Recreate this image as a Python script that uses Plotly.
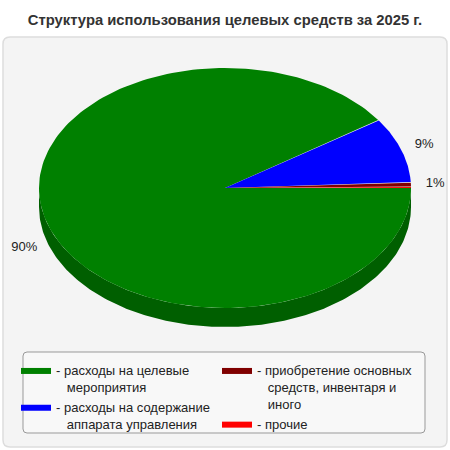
import numpy as np
import plotly.graph_objects as go

# data
labels = [
    "- расходы на целевые<br>\u00a0\u00a0\u00a0мероприятия",
    "- расходы на содержание<br>\u00a0\u00a0\u00a0аппарата управления",
    "- приобретение основных<br>\u00a0\u00a0\u00a0средств, инвентаря и<br>\u00a0\u00a0\u00a0иного",
    "- прочие",
]
values = [90.4, 8.8, 0.6, 0.2]
colors = ["#008000", "#0000ff", "#800000", "#ff0000"]
side_colors = ["#005f00", "#0000b0", "#5a0000", "#b00000"]
legend_ids = ["legend", "legend", "legend2", "legend2"]

W = H = 450
CX, CY, RX = 225, 188, 186  # pixel centre and x radius of the pie
RY = 120 / RX               # squash of the ellipse
DEPTH = 19 / RX             # thickness of the side wall


def arc(a0, a1, n=200):
    t = np.radians(np.linspace(a0, a1, n))
    return np.cos(t), RY * np.sin(t)


fig = go.Figure()

total = sum(values)
starts = np.concatenate([[0], np.cumsum(values)[:-1]]) / total * -360
ends = np.cumsum(values) / total * -360

# side walls (only the front, lower half is visible)
for s, e, c in zip(starts, ends, side_colors):
    for lo, hi in [(-180, 0), (-540, -360)]:
        a0, a1 = min(s, hi), max(e, lo)
        if a0 <= a1:
            continue
        x, y = arc(a0, a1)
        xs = np.concatenate([x, x[::-1]])
        ys = np.concatenate([y, y[::-1] - DEPTH])
        fig.add_trace(go.Scatter(x=xs, y=ys, fill="toself", fillcolor=c,
                                 mode="lines", line=dict(width=0),
                                 showlegend=False, hoverinfo="skip"))

# top faces
for lab, v, s, e, c, lg in zip(labels, values, starts, ends, colors, legend_ids):
    x, y = arc(s, e)
    fig.add_trace(go.Scatter(x=np.concatenate([[0], x, [0]]),
                             y=np.concatenate([[0], y, [0]]),
                             fill="toself", fillcolor=c, mode="lines",
                             line=dict(width=0, color=c), name=lab,
                             legend=lg, hoverinfo="skip"))

# percent labels
mids = np.radians((starts + ends) / 2)
lx = 1.13 * np.cos(mids)
ly = 1.13 * RY * np.sin(mids) - np.where(np.sin(mids) < 0, DEPTH, 0)
pct = [int(v / total * 100 + 0.5) for v in values]
texts = [f"{p}%" if p >= 1 else "" for p in pct]
fig.add_trace(go.Scatter(x=lx, y=ly, mode="text", text=texts,
                         textfont=dict(size=13, color="#222222"),
                         showlegend=False, hoverinfo="skip"))


def rounded_rect(x0, y0, x1, y1, r):
    # pixel box -> paper path with rounded corners
    px = lambda v: v / W
    py = lambda v: 1 - v / H
    return (f"M{px(x0 + r)},{py(y0)} L{px(x1 - r)},{py(y0)} Q{px(x1)},{py(y0)} {px(x1)},{py(y0 + r)} "
            f"L{px(x1)},{py(y1 - r)} Q{px(x1)},{py(y1)} {px(x1 - r)},{py(y1)} "
            f"L{px(x0 + r)},{py(y1)} Q{px(x0)},{py(y1)} {px(x0)},{py(y1 - r)} "
            f"L{px(x0)},{py(y0 + r)} Q{px(x0)},{py(y0)} {px(x0 + r)},{py(y0)} Z")


fig.update_layout(
    width=W, height=H,
    margin=dict(l=0, r=0, t=0, b=0),
    paper_bgcolor="white", plot_bgcolor="rgba(0,0,0,0)",
    font=dict(family="Liberation Sans, Arial", size=13, color="#222222"),
    title=dict(text="<b>Структура использования целевых средств за 2025 г.</b>",
               x=0.5, xanchor="center", y=1 - 20 / H, yanchor="middle",
               font=dict(size=14.8, color="#333333")),
    xaxis=dict(range=[-CX / RX, (W - CX) / RX], visible=False, fixedrange=True),
    yaxis=dict(range=[-(H - CY) / RX, CY / RX], visible=False, fixedrange=True),
    shapes=[
        dict(type="path", xref="paper", yref="paper", layer="below",
             path=rounded_rect(3, 37, 447, 447, 7),
             fillcolor="#f4f4f4", line=dict(color="#dddddd", width=1.5)),
        dict(type="path", xref="paper", yref="paper", layer="below",
             path=rounded_rect(23, 352, 425, 433, 4),
             fillcolor="#f8f8f8", line=dict(color="#999999", width=1)),
    ],
    legend=dict(x=16 / W, y=1 - 355 / H, xanchor="left", yanchor="top",
                valign="top", bgcolor="rgba(0,0,0,0)", tracegroupgap=0,
                itemclick=False, font=dict(size=13, color="#222222")),
    legend2=dict(x=217 / W, y=1 - 355 / H, xanchor="left", yanchor="top",
                 valign="top", bgcolor="rgba(0,0,0,0)", tracegroupgap=0,
                 itemclick=False, font=dict(size=13, color="#222222")),
)

fig.write_html("out.html", config={"displayModeBar": False},
               post_script="document.body.style.margin='0';")
